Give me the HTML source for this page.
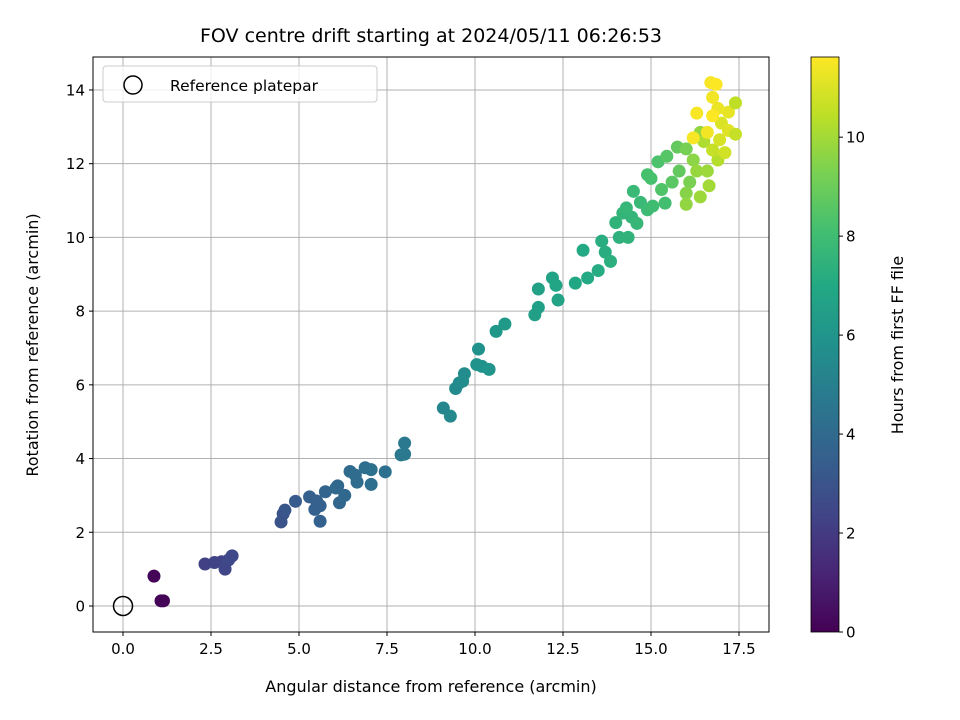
<!DOCTYPE html>
<html><head><meta charset="utf-8"><style>
html,body{margin:0;padding:0;background:#fff;width:960px;height:720px;overflow:hidden}
svg text{font-family:"DejaVu Sans","Liberation Sans",sans-serif;fill:#000}
</style></head><body>
<svg id="chart" width="960" height="720" xmlns="http://www.w3.org/2000/svg">
<defs><linearGradient id="vir" x1="0" y1="1" x2="0" y2="0">
<stop offset="0" stop-color="#440154"/><stop offset="0.1" stop-color="#482475"/><stop offset="0.2" stop-color="#414487"/><stop offset="0.3" stop-color="#355f8d"/><stop offset="0.4" stop-color="#2a788e"/><stop offset="0.5" stop-color="#21918c"/><stop offset="0.6" stop-color="#22a884"/><stop offset="0.7" stop-color="#44bf70"/><stop offset="0.8" stop-color="#7ad151"/><stop offset="0.9" stop-color="#bddf26"/><stop offset="1" stop-color="#fde725"/>
</linearGradient></defs>
<text x="431" y="42" font-size="19" text-anchor="middle">FOV centre drift starting at 2024/05/11 06:26:53</text>
<g id="grid"></g>
<g id="pts"></g>
<rect x="93" y="57" width="676" height="575" fill="none" stroke="#000" stroke-width="1"/>
<g id="ticks"></g>
<text x="431" y="692" font-size="16" text-anchor="middle">Angular distance from reference (arcmin)</text>
<text transform="translate(38,345) rotate(-90)" font-size="16" text-anchor="middle">Rotation from reference (arcmin)</text>
<g>
<rect x="103" y="66" width="274" height="36" rx="3" fill="#fff" fill-opacity="0.8" stroke="#ccc"/>
<circle cx="133" cy="85" r="9" fill="none" stroke="#000" stroke-width="1.5"/>
<text x="170" y="91" font-size="15.5">Reference platepar</text>
</g>
<rect x="811" y="57" width="28" height="575" fill="url(#vir)" stroke="#000" stroke-width="0.8"/>
<g id="cbticks"></g>
<text transform="translate(903,345) rotate(-90)" font-size="16" text-anchor="middle">Hours from first FF file</text>
</svg>
<script>
const xs=[0.88,1.08,1.15,2.33,2.6,2.8,2.9,3.1,3.0,4.49,4.55,4.6,4.9,5.3,5.5,5.45,5.6,5.6,5.75,6.1,6.15,6.3,6.05,6.45,6.65,6.6,6.88,7.05,7.05,7.45,7.9,8.0,8.0,9.1,9.3,9.45,9.55,9.7,9.65,10.1,10.2,10.05,10.4,10.6,10.85,11.7,11.8,11.8,12.2,12.36,12.3,12.85,13.2,13.07,13.5,13.7,13.6,13.85,14.1,14.35,14.0,14.2,14.45,14.6,14.3,14.5,14.7,14.9,15.05,15.4,15.0,15.2,14.9,15.45,15.3,15.6,15.8,15.75,16.0,16.1,16.0,16.0,16.2,16.4,16.3,16.6,16.4,16.65,16.5,16.9,16.75,17.1,16.95,17.0,17.2,17.4,17.2,17.4,16.9,16.75,16.7,16.85,16.3,16.6,16.2,16.75];
const ys=[0.81,0.14,0.14,1.14,1.18,1.2,1.0,1.36,1.25,2.28,2.5,2.6,2.84,2.96,2.85,2.62,2.72,2.3,3.1,3.26,2.8,3.0,3.2,3.65,3.36,3.55,3.75,3.3,3.7,3.64,4.1,4.42,4.12,5.37,5.15,5.9,6.05,6.3,6.1,6.97,6.5,6.55,6.42,7.45,7.65,7.9,8.1,8.6,8.9,8.3,8.7,8.76,8.9,9.65,9.1,9.6,9.9,9.35,10.0,10.0,10.4,10.66,10.55,10.38,10.8,11.25,10.95,10.75,10.85,10.93,11.6,12.05,11.7,12.2,11.3,11.5,11.8,12.45,12.4,11.5,11.2,10.9,12.1,12.85,11.8,11.8,11.1,11.4,12.6,12.1,12.37,12.3,12.65,13.1,12.9,12.8,13.4,13.65,13.5,13.8,14.2,14.15,13.37,12.85,12.7,13.3];
const hrs=[0.1,0.1,0.1,2.2,2.3,2.3,2.4,2.5,2.5,3.0,3.0,3.1,3.3,3.5,3.5,3.6,3.6,3.6,3.7,3.8,3.8,3.9,3.9,4.0,4.1,4.1,4.2,4.2,4.3,4.3,4.6,4.7,4.7,5.3,5.4,5.5,5.5,5.6,5.6,5.8,5.9,5.9,6.0,6.1,6.2,6.5,6.5,6.6,6.7,6.7,6.8,6.9,7.0,7.0,7.1,7.2,7.2,7.3,7.4,7.5,7.5,7.6,7.6,7.7,7.7,7.8,7.8,7.9,8.0,8.1,8.2,8.3,8.2,8.5,8.4,8.6,8.8,8.8,9.2,9.3,9.5,9.7,9.6,9.7,9.8,9.9,9.9,10.0,10.2,10.3,10.6,10.8,10.9,11.0,11.1,10.6,11.2,10.5,11.3,11.4,11.5,11.6,11.5,11.4,11.5,11.6];
const xTicks=[0,2.5,5,7.5,10,12.5,15,17.5];
const yTicks=[0,2,4,6,8,10,12,14];
const cTicks=[0,2,4,6,8,10];
const HMAX=11.62;
const X=v=>123+v*35.2, Y=v=>606-v*36.86, C=v=>632-v*(575/HMAX);
const NS="http://www.w3.org/2000/svg";
function mk(tag,attrs,parent){const e=document.createElementNS(NS,tag);for(const k in attrs)e.setAttribute(k,attrs[k]);parent.appendChild(e);return e;}
const stops=[[68,1,84],[72,36,117],[65,68,135],[53,95,141],[42,120,142],[33,145,140],[34,168,132],[68,191,112],[122,209,81],[189,223,38],[253,231,37]];
function vir(t){t=Math.max(0,Math.min(1,t))*(stops.length-1);const i=Math.min(Math.floor(t),stops.length-2),f=t-i;const c=stops[i].map((a,k)=>Math.round(a+(stops[i+1][k]-a)*f));return `rgb(${c})`;}
const grid=document.getElementById('grid'),tk=document.getElementById('ticks'),pts=document.getElementById('pts'),cb=document.getElementById('cbticks');
xTicks.forEach(v=>{const x=X(v);
const g=mk('line',{x1:x,x2:x,y1:57,y2:632,stroke:'#b0b0b0','stroke-width':1},grid);


mk('line',{x1:x,x2:x,y1:632,y2:636,stroke:'#000'},tk);
const t=mk('text',{x:x,y:654,'font-size':15,'text-anchor':'middle'},tk);t.textContent=v.toFixed(1);

});
yTicks.forEach(v=>{const y=Y(v);
const g=mk('line',{x1:93,x2:769,y1:y,y2:y,stroke:'#b0b0b0','stroke-width':1},grid);


mk('line',{x1:89,x2:93,y1:y,y2:y,stroke:'#000'},tk);
const t=mk('text',{x:85,y:y+5.5,'font-size':15,'text-anchor':'end'},tk);t.textContent=v;

});
cTicks.forEach(v=>{const y=C(v);
mk('line',{x1:839,x2:843,y1:y,y2:y,stroke:'#000'},cb);
const t=mk('text',{x:846,y:y+5.5,'font-size':15},cb);t.textContent=v;

});
xs.forEach((v,i)=>{const c=mk('circle',{cx:X(v),cy:Y(ys[i]),r:6.5,fill:vir(hrs[i]/HMAX)},pts);

});
const r=mk('circle',{cx:X(0),cy:Y(0),r:9.5,fill:'none',stroke:'#000','stroke-width':1.5},pts);


</script>
</body></html>
